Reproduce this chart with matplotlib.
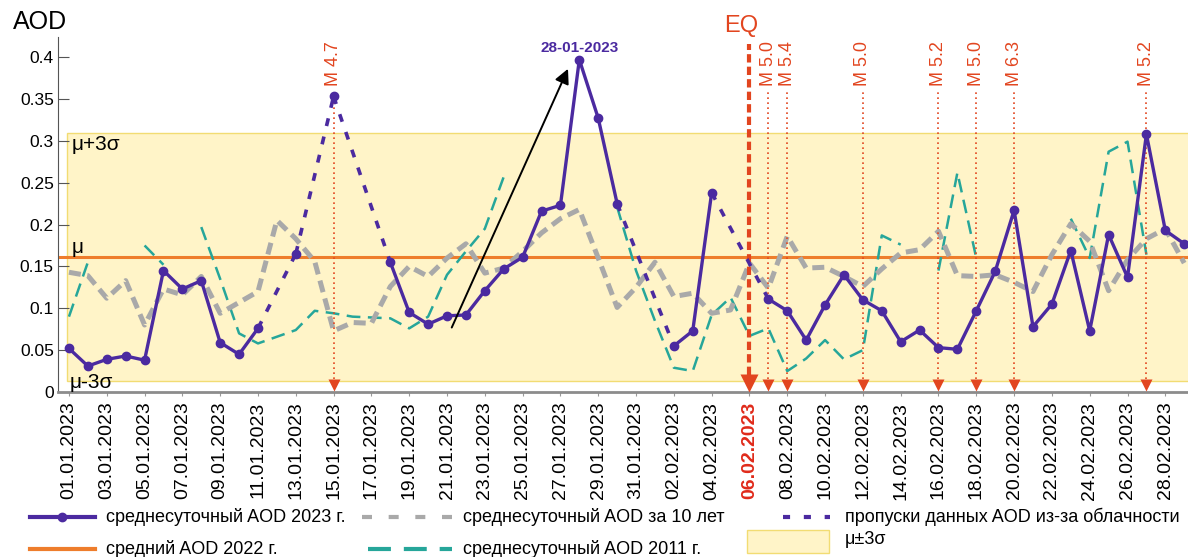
import numpy as np
import pandas as pd
import matplotlib.pyplot as plt
from matplotlib.lines import Line2D
from matplotlib.patches import Rectangle

plt.rcParams['font.family'] = ['Liberation Sans', 'DejaVu Sans']

nan = np.nan

# daily dates 01.01.2023 .. 01.03.2023
dates = pd.date_range('2023-01-01', '2023-03-01').strftime('%d.%m.%Y').tolist()

# daily mean AOD 2023 (nan = no data because of clouds)
aod_2023 = [0.052, 0.031, 0.039, 0.043, 0.038, 0.145, 0.123, 0.133, 0.059, 0.045,
            0.076, nan, 0.165, nan, 0.353, nan, nan, 0.155, 0.095, 0.081,
            0.091, 0.092, 0.121, 0.147, 0.161, 0.216, 0.223, 0.397, 0.327, 0.225,
            nan, nan, 0.055, 0.073, 0.238, nan, nan, 0.111, 0.097, 0.062,
            0.104, 0.140, 0.110, 0.097, 0.060, 0.074, 0.053, 0.051, 0.097, 0.144,
            0.217, 0.078, 0.105, 0.169, 0.073, 0.188, 0.137, 0.308, 0.193, 0.177]

# daily mean AOD over 10 years
aod_10yr = [0.143, 0.139, 0.112, 0.133, 0.080, 0.123, 0.116, 0.138, 0.094, 0.107,
            0.120, 0.205, 0.183, 0.156, 0.073, 0.083, 0.082, 0.126, 0.150, 0.138,
            0.160, 0.177, 0.142, 0.148, 0.168, 0.190, 0.207, 0.218, 0.160, 0.101,
            0.125, 0.155, 0.114, 0.118, 0.094, 0.098, 0.154, 0.124, 0.186, 0.148,
            0.149, 0.138, 0.126, 0.147, 0.166, 0.170, 0.192, 0.139, 0.138, 0.140,
            0.131, 0.120, 0.164, 0.201, 0.180, 0.121, 0.158, 0.183, 0.195, 0.154]

# daily mean AOD 2011
aod_2011 = [0.090, 0.155, nan, nan, 0.175, 0.152, nan, 0.197, 0.135, 0.070,
            0.058, 0.066, 0.074, 0.097, 0.094, 0.090, 0.089, 0.088, 0.076, 0.090,
            0.140, 0.168, 0.195, 0.257, nan, nan, nan, nan, nan, 0.221,
            0.145, 0.085, 0.029, 0.025, 0.092, 0.113, 0.067, 0.076, 0.025, 0.040,
            0.062, 0.039, 0.050, 0.187, 0.176, nan, 0.145, 0.262, 0.160, nan,
            nan, nan, nan, 0.207, 0.160, 0.287, 0.299, 0.164, nan, nan]

mean_2022 = 0.161
band_lo, band_hi = 0.013, 0.309

eq_main = '06.02.2023'
quake_dates = ['15.01.2023', '07.02.2023', '08.02.2023', '12.02.2023',
               '16.02.2023', '18.02.2023', '20.02.2023', '27.02.2023']
quake_mags = ['M 4.7', 'M 5.0', 'M 5.4', 'M 5.0', 'M 5.2', 'M 5.0', 'M 6.3', 'M 5.2']

yticks = [0, 0.05, 0.1, 0.15, 0.2, 0.25, 0.3, 0.35, 0.4]
ytick_labels = ['0', '0.05', '0.1', '0.15', '0.2', '0.25', '0.3', '0.35', '0.4']

PURPLE = '#4b2aa0'
ORANGE = '#ee7d2c'
GRAY = '#a9a9a9'
TEAL = '#26a69a'
RED = '#e2451f'
BAND = '#fff4c8'

W, H = 1188, 557


def fxy(x, y):
    return x / W, 1 - y / H


fig = plt.figure(figsize=(W / 100, H / 100), dpi=100)
ax = fig.add_axes([58 / W, 1 - 392 / H, 1 - 58 / W, (392 - 37) / H])

x = np.arange(len(dates))
y23 = np.array(aod_2023)

ax.add_patch(Rectangle((-0.1, band_lo), 70, band_hi - band_lo,
                       facecolor=BAND, edgecolor='#f2dc73', lw=1, zorder=0))
ax.axhline(mean_2022, color=ORANGE, lw=2.2, zorder=1)

ax.text(0.15, 0.296, 'μ+3σ', fontsize=15, va='center', ha='left', zorder=6)
ax.text(0.15, 0.173, 'μ', fontsize=15, va='center', ha='left', zorder=6)
ax.text(0.05, 0.011, 'μ-3σ', fontsize=15, va='center', ha='left', zorder=6)

ax.plot(x, aod_2011, color=TEAL, lw=1.8, dashes=(5.5, 3), zorder=2)
ax.plot(x, aod_10yr, color=GRAY, lw=3.6, dashes=(2.4, 1.3), zorder=3)

# earthquakes
for d, m in zip(quake_dates, quake_mags):
    i = dates.index(d)
    ax.plot([i, i], [0.015, 0.362], color=RED, lw=1.2, ls=(0, (1, 2)), zorder=4)
    ax.plot(i, 0.008, marker='v', ms=9, color=RED, mec='none', zorder=4, clip_on=False)
    ax.text(i, 0.366, m, rotation=90, ha='center', va='bottom', fontsize=13,
            color=RED, zorder=6)
ie = dates.index(eq_main)
ax.plot([ie, ie], [0.02, 0.416], color=RED, lw=3, dashes=(2, 1), zorder=4)
ax.plot(ie, 0.011, marker='v', ms=13, color=RED, mec='none', zorder=4, clip_on=False)
ax.text(ie - 0.45, 0.424, 'EQ', ha='center', va='bottom', fontsize=17,
        color=RED, clip_on=False)

# 2023 series, gaps bridged with dashes
ax.plot(x, y23, color=PURPLE, lw=2.4, marker='o', ms=6, zorder=5)
valid = np.flatnonzero(~np.isnan(y23))
for a, b in zip(valid[:-1], valid[1:]):
    if b - a > 1:
        ax.plot([a, b], [y23[a], y23[b]], color=PURPLE, lw=2.6,
                dashes=(2.2, 3.0), zorder=5)

ipk = int(np.nanargmax(y23))
ax.text(ipk, y23[ipk] + 0.006, dates[ipk].replace('.', '-'), ha='center',
        va='bottom', fontsize=11, fontweight='bold', color=PURPLE, zorder=6)
ax.annotate('', xy=(ipk - 0.6, 0.386), xytext=(20.25, 0.077),
            arrowprops=dict(arrowstyle='-|>', color='black', lw=1.4,
                            mutation_scale=22, shrinkA=0, shrinkB=0), zorder=6)

ax.set_xlim(-0.58, 59.2)
ax.set_ylim(0, 0.424)
ax.set_yticks(yticks)
ax.set_yticklabels(ytick_labels, fontsize=12.5)
ax.set_xticks(x[::2])
ax.set_xticklabels(dates[::2], rotation=90, fontsize=14)
for lbl in ax.get_xticklabels():
    if lbl.get_text() == eq_main:
        lbl.set_color('#e02a1a')
        lbl.set_fontweight('bold')

ax.tick_params(axis='y', direction='in', length=8, pad=3, color='#555555')
ax.tick_params(axis='x', direction='out', length=3, pad=4, color='#999999')
for s in ('top', 'right'):
    ax.spines[s].set_visible(False)
ax.spines['left'].set_color('#555555')
ax.spines['bottom'].set_color('#8c8c8c')
ax.spines['bottom'].set_linewidth(2)

fig.text(*fxy(13, 22), 'AOD', fontsize=18, ha='left', va='center')

# legend
r1, r2 = 517, 549
tf = fig.transFigure


def seg(x0, x1, y, **kw):
    (a, yy), (b, _) = fxy(x0, y), fxy(x1, y)
    fig.add_artist(Line2D([a, b], [yy, yy], transform=tf, **kw))


seg(30, 95, r1, color=PURPLE, lw=3)
fig.add_artist(Line2D([fxy(62, r1)[0]], [fxy(62, r1)[1]], transform=tf,
                      marker='o', ms=6, color=PURPLE))
seg(30, 95, r2, color=ORANGE, lw=3)
seg(362, 452, r1, color=GRAY, lw=3, dashes=(2.4, 4))
seg(368, 452, r2, color=TEAL, lw=3, dashes=(5.5, 3.1))
seg(783, 830, r1, color=PURPLE, lw=3, dashes=(1.7, 3.3))
bx, by = fxy(747, 553)
fig.add_artist(Rectangle((bx, by), 82 / W, 23 / H, transform=tf,
                         facecolor=BAND, edgecolor='#f2dc73', lw=1))

for tx, ty, s in [(106, r1, 'среднесуточный AOD 2023 г.'),
                  (106, r2, 'средний AOD 2022 г.'),
                  (463, r1, 'среднесуточный AOD за 10 лет'),
                  (463, r2, 'среднесуточный AOD 2011 г.'),
                  (845, r1, 'пропуски данных AOD из-за облачности'),
                  (845, 540, 'μ±3σ')]:
    fig.text(*fxy(tx, ty), s, fontsize=13, ha='left', va='center')

fig.savefig('out.png', dpi=100)
